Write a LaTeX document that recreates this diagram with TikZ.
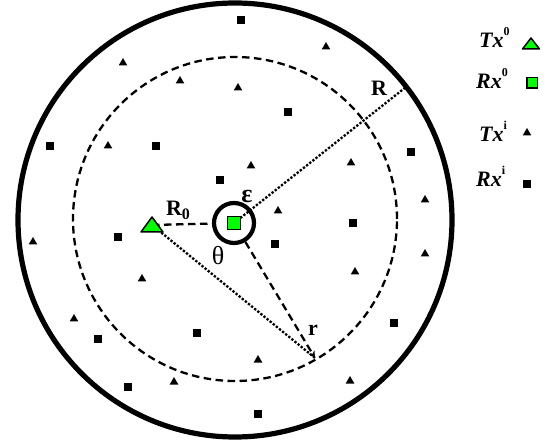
\documentclass[tikz,border=0pt]{standalone}
\usepackage{fontspec}
\setmainfont{Liberation Serif}
\usetikzlibrary{shapes.geometric,arrows.meta}
\tikzset{
  txmark/.style={regular polygon, regular polygon sides=3, fill=black, inner sep=0pt, minimum size=10pt},
  rxmark/.style={rectangle, fill=black, inner sep=0pt, minimum size=8pt},
  rxzero/.style={rectangle, draw=black, fill=green, line width=1.5pt, inner sep=0pt, minimum size=13pt},
  txzero/.style={draw=black, fill=green, line width=1.5pt, line join=round},
  lbl/.style={font=\fontsize{22}{24}\selectfont\bfseries, inner sep=0pt},
  legtext/.style={font=\fontsize{22}{26}\selectfont\bfseries\itshape, anchor=base west, inner sep=0pt},
  dotline/.style={line width=2.3pt, dash pattern=on 2.3pt off 1.7pt},
  dashline/.style={line width=2.3pt, dash pattern=on 7.5pt off 4.5pt},
}
\begin{document}
\begin{tikzpicture}[x=1pt,y=-1pt]
\useasboundingbox (0,0) rectangle (551,443);
% centre of the cell, the typical link and the end points
\coordinate (O) at (235,220);
\coordinate (tx0) at (152,225);
\coordinate (rx0) at (234,223);
\coordinate (rpt) at (315,358);
\coordinate (Rend) at (406,87);
% outer cell and guard circle
\draw[line width=5.2pt] (O) circle (217pt);
\draw[dashline] (235,219) circle (162pt);
% interfering transmitters
\foreach \p [count=\i] in {(123,63),(180,81),(108,146),(326,47),(238,88),(251,166),(351,163),(425,200),(278,211),
    (33,242),(142,279),(74,319),(174,382),(425,254),(355,272),(258,360),(350,381)}
  \node[txmark] (tx\i) at \p {};
% interfering receivers
\foreach \p [count=\i] in {(50,146),(156,146),(220,180),(241,20),(288,112),(411,152),(353,223),(118,237),
    (98,339),(197,333),(128,387),(275,244),(394,323),(258,414)}
  \node[rxmark] (rx\i) at \p {};
% ring of radius epsilon round the typical receiver
\node[circle, draw, line width=4.2pt, minimum size=40pt, inner sep=0pt] (ring) at (rx0) {};
% distances
\draw[dashline] (tx0) -- (ring);
\draw[dotline] (tx0) -- (rpt);
\draw[dotline] (rx0) -- (Rend);
\draw[dashline, -{Stealth[length=7pt,width=7pt]}] (ring) -- (rpt);
% typical transmitter and receiver
\filldraw[txzero] (tx0) +(-11,7) -- +(11,7) -- +(0,-8) -- cycle;
\node[rxzero] (rxsq) at (rx0) {};
% labels
\node[lbl] (Rlab) at (379,88) {R};
\node[lbl] (R0lab) at (178,210) {R\raisebox{-4pt}{\fontsize{16}{17}\selectfont 0}};
\node[lbl, font=\fontsize{26}{28}\selectfont\bfseries] (eps) at (247,197) {ε};
\node[font=\fontsize{26}{28}\selectfont, inner sep=0pt] (theta) at (218,256) {θ};
\node[lbl] (rlab) at (313,330) {r};
% legend
\node[legtext] (ltx0) at (479,48) {Tx\raisebox{12pt}{\fontsize{12}{13}\selectfont\bfseries\upshape 0}};
\node[legtext] (lrx0) at (476,89) {Rx\raisebox{12pt}{\fontsize{12}{13}\selectfont\bfseries\upshape 0}};
\node[legtext] (ltxi) at (479,142) {Tx\raisebox{12pt}{\fontsize{12}{13}\selectfont\bfseries\upshape i}};
\node[legtext] (lrxi) at (476,187) {Rx\raisebox{12pt}{\fontsize{12}{13}\selectfont\bfseries\upshape i}};
\coordinate (ltxsym) at (531,44);
\filldraw[txzero] (ltxsym) +(-8.5,5) -- +(8.5,5) -- +(0,-6) -- cycle;
\node[rxzero, minimum size=10.5pt] (lrxsym) at (532,83) {};
\node[txmark] (ltxisym) at (527,133) {};
\node[rxmark] (lrxisym) at (527,184) {};
\end{tikzpicture}
\end{document}
